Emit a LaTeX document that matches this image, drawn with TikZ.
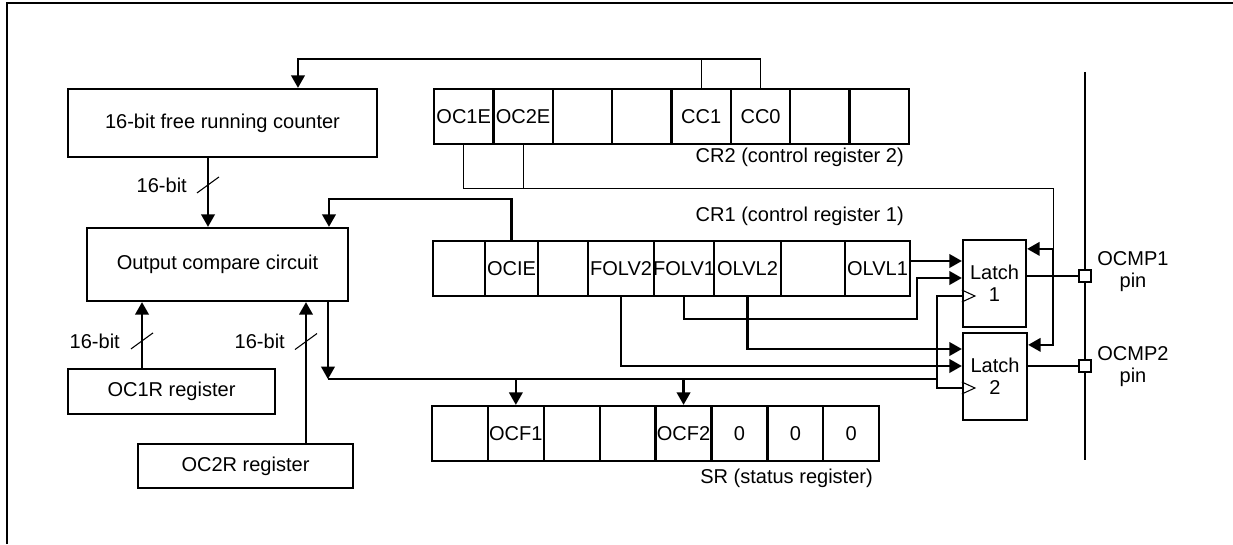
\documentclass[tikz,border=0pt]{standalone}
\usepackage{fontspec}
\setmainfont{Liberation Sans}
\usetikzlibrary{arrows.meta}

\begin{document}
\begin{tikzpicture}[x=0.02cm, y=-0.02cm, font=\fontsize{11.4}{12.5}\selectfont,
    box/.style={draw, line width=1.3pt, inner sep=0pt, align=center},
    cell/.style={draw, line width=1.3pt, inner sep=0pt, minimum height=1.1cm},
    wire/.style={line width=1.3pt},
    thinwire/.style={line width=0.6pt},
    arr/.style={-{Triangle[length=0.25cm, width=0.27cm]}},
    padbox/.style={draw, fill=white, line width=1pt, minimum size=0.23cm, inner sep=0pt}]
    \useasboundingbox (0,0) rectangle (1233,544);
    \draw[wire] (7,544) -- (7,3) -- (1233,3);

    \node[box, minimum width=6.18cm, minimum height=1.36cm] (counter) at (222.5,123) {16-bit free running counter};
    \node[box, minimum width=5.22cm, minimum height=1.46cm] (occ) at (217.5,264.5) {Output compare circuit};
    \node[box, minimum width=4.14cm, minimum height=0.9cm] (oc1r) at (171.5,391.5) {OC1R register};
    \node[box, minimum width=4.3cm, minimum height=0.88cm] (oc2r) at (245.5,466) {OC2R register};
    \node[box, minimum width=1.26cm, minimum height=1.74cm] (latch1) at (994.5,283.5) {Latch\\1};
    \node[box, minimum width=1.28cm, minimum height=1.74cm] (latch2) at (995,376.5) {Latch\\2};

    \foreach \lbl [count=\i] in {OC1E,OC2E,{},{},CC1,CC0,{},{}}
        \node[cell, minimum width=1.1875cm, label=center:\lbl] (cr2-\i) at ({434+59.375*(\i-0.5)},116.5) {};
    \node[anchor=east] (cr2lbl) at (910,157) {CR2 (control register 2)};

    \foreach \xa/\xb/\lbl [count=\i] in {433/485/{},485/538/OCIE,538/588/{},588/654/FOLV2,654/714/FOLV1,714/781/OLVL2,781/845/{},845/910/OLVL1}
        \node[cell, minimum width={(\xb-\xa)*0.02cm}, label=center:\lbl] (cr1-\i) at ({(\xa+\xb)/2},268.5) {};
    \node[anchor=east] (cr1lbl) at (910,216) {CR1 (control register 1)};

    \foreach \lbl [count=\i] in {{},OCF1,{},{},OCF2,0,0,0}
        \node[cell, minimum width=1.118cm, label=center:\lbl] (sr-\i) at ({432+55.9*(\i-0.5)},433.5) {};
    \node[anchor=east] (srlbl) at (879,478) {SR (status register)};

    \path (cr2-6.north) ++(0,-29) coordinate (ccbus);
    \draw[thinwire] (cr2-5.north) -- (cr2-5.north |- ccbus);
    \draw[thinwire] (cr2-6.north) -- (ccbus);
    \draw[wire, arr] (ccbus) -| ([xshift=1.51cm]counter.north);

    \draw[wire, arr] ([xshift=-0.29cm]counter.south) -- coordinate[pos=0.39] (m0) ([xshift=-0.29cm]counter.south |- occ.north);
    \draw[thinwire] (m0) ++(-11,8) -- ++(22,-16);
    \node[anchor=east] (bw0) at ([xshift=-0.3cm]m0) {16-bit};

    \draw[wire, arr] ([xshift=-0.59cm]oc1r.north) -- coordinate[pos=0.41] (m1) ([xshift=-0.59cm]oc1r.north |- occ.south);
    \draw[thinwire] (m1) ++(-11,8) -- ++(22,-16);
    \node[anchor=east] (bw1) at ([xshift=-0.32cm]m1) {16-bit};

    \draw[wire, arr] ([xshift=1.21cm]oc2r.north) -- coordinate[pos=0.72] (m2) ([xshift=1.21cm]oc2r.north |- occ.south);
    \draw[thinwire] (m2) ++(-11,8) -- ++(22,-16);
    \node[anchor=east] (bw2) at ([xshift=-0.3cm]m2) {16-bit};

    \draw[wire, arr] (cr1-2.north) -- ++(0,-41) -| ([xshift=2.23cm]occ.north);

    \coordinate (d1a) at ([yshift=0.45cm]latch1.west);
    \coordinate (d1b) at ([yshift=0.11cm]latch1.west);
    \coordinate (clk1) at ([yshift=-0.25cm]latch1.west);
    \coordinate (d2a) at ([yshift=0.55cm]latch2.west);
    \coordinate (d2b) at ([yshift=0.21cm]latch2.west);
    \coordinate (clk2) at ([yshift=-0.23cm]latch2.west);
    \coordinate (en1) at ([yshift=-0.2cm]latch1.north east);
    \coordinate (en2) at ([yshift=-0.26cm]latch2.north east);

    \draw[wire, arr] ([xshift=2.21cm]occ.south) -- ++(0,77) coordinate (busl);
    \draw[wire] (clk1) -- ++(-25,0) coordinate (clkbus) |- (clk2);
    \draw[wire] (busl) -- (busl -| clkbus);
    \draw[thinwire] (clk1) ++(0,-6) -- ++(13,6) -- ++(-13,6);
    \draw[thinwire] (clk2) ++(0,-6) -- ++(13,6) -- ++(-13,6);
    \draw[wire, arr] (sr-2.north |- busl) -- (sr-2.north);
    \draw[wire, arr] (sr-5.north |- busl) -- (sr-5.north);

    \draw[wire, arr] (cr1-8.east |- d1a) -- (d1a);
    \draw[wire, arr] (cr1-5.south) -- ++(0,22) -| ([xshift=-0.9cm]d1b) -- (d1b);
    \draw[wire, arr] (cr1-6.south) |- (d2a);
    \draw[wire, arr] (cr1-4.south) |- (d2b);

    \draw[thinwire] (cr2-1.south) -- ++(0,43) coordinate (oebus) -| ([xshift=0.52cm]en1);
    \draw[thinwire] (cr2-2.south) -- (cr2-2.south |- oebus);
    \draw[wire, arr] ([xshift=0.52cm]en1) -- (en1);
    \draw[wire, arr] ([xshift=0.52cm]en1) |- (en2);

    \coordinate (pintop) at (1085,72);
    \coordinate (pinbot) at (1085,460);
    \draw[wire] (pintop) -- (pinbot);
    \node[padbox] (pad1) at (1085,276) {};
    \node[padbox] (pad2) at (1085,366) {};
    \draw[wire] (latch1.east |- pad1) -- (pad1);
    \draw[wire] (latch2.east |- pad2) -- (pad2);
    \node[align=center] (ocmp1) at (1133,272) {OCMP1\\pin};
    \node[align=center] (ocmp2) at (1133,367) {OCMP2\\pin};
\end{tikzpicture}
\end{document}
